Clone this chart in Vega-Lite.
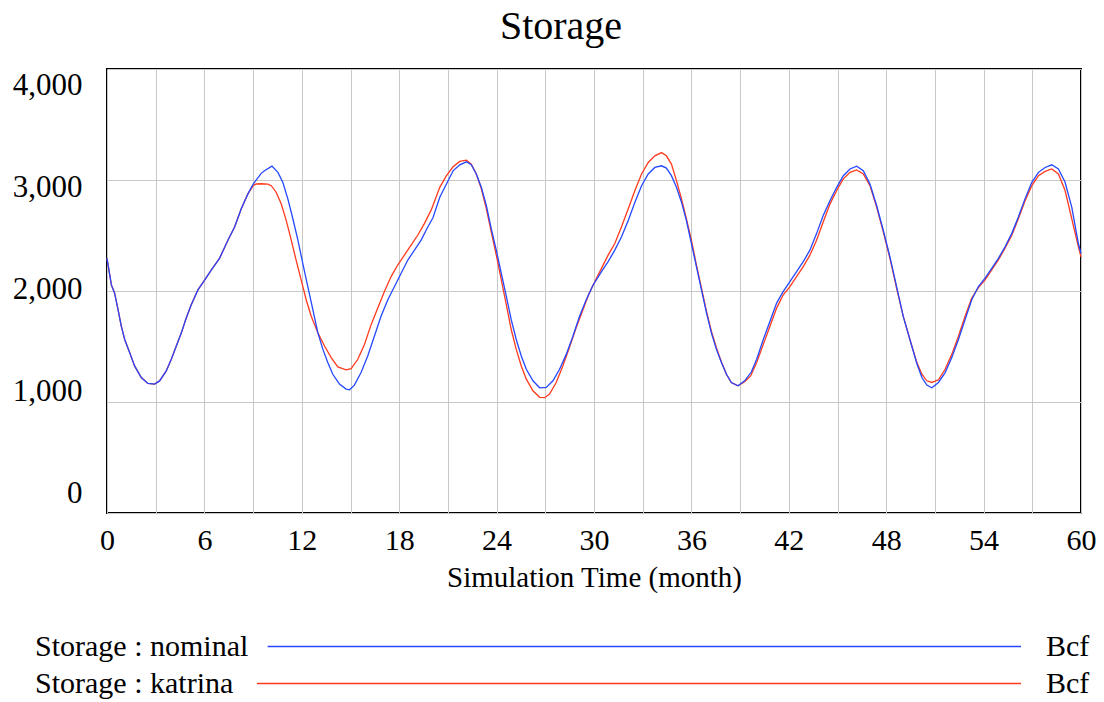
{
"$schema": "https://vega.github.io/schema/vega-lite/v6.json",
"background": "white",
"padding": {"left": 11, "top": 6, "right": 10, "bottom": 0},
"config": {"font": "Times New Roman, Liberation Serif, serif", "view": {"stroke": "black", "strokeWidth": 2}},
"spacing": 35,
"datasets": {
"storage": [
{"run":"nominal","month":0,"value":2294},{"run":"nominal","month":0.27,"value":2055},{"run":"nominal","month":0.47,"value":1980},{"run":"nominal","month":0.68,"value":1832},{"run":"nominal","month":0.88,"value":1683},{"run":"nominal","month":1.09,"value":1563},{"run":"nominal","month":1.4,"value":1444},{"run":"nominal","month":1.7,"value":1325},{"run":"nominal","month":2.11,"value":1220},{"run":"nominal","month":2.52,"value":1167},{"run":"nominal","month":2.93,"value":1161},{"run":"nominal","month":3.24,"value":1190},{"run":"nominal","month":3.65,"value":1280},{"run":"nominal","month":3.96,"value":1385},{"run":"nominal","month":4.27,"value":1504},{"run":"nominal","month":4.58,"value":1623},{"run":"nominal","month":4.88,"value":1757},{"run":"nominal","month":5.19,"value":1876},{"run":"nominal","month":5.6,"value":2010},{"run":"nominal","month":5.95,"value":2085},{"run":"nominal","month":6.42,"value":2189},{"run":"nominal","month":6.93,"value":2294},{"run":"nominal","month":7.45,"value":2458},{"run":"nominal","month":7.86,"value":2577},{"run":"nominal","month":8.27,"value":2741},{"run":"nominal","month":8.68,"value":2875},{"run":"nominal","month":9.01,"value":2964},{"run":"nominal","month":9.5,"value":3060},{"run":"nominal","month":9.7,"value":3083},{"run":"nominal","month":10.16,"value":3125},{"run":"nominal","month":10.53,"value":3069},{"run":"nominal","month":10.83,"value":2979},{"run":"nominal","month":11.14,"value":2830},{"run":"nominal","month":11.45,"value":2651},{"run":"nominal","month":11.76,"value":2458},{"run":"nominal","month":12.06,"value":2249},{"run":"nominal","month":12.37,"value":2039},{"run":"nominal","month":12.68,"value":1832},{"run":"nominal","month":12.99,"value":1623},{"run":"nominal","month":13.3,"value":1474},{"run":"nominal","month":13.6,"value":1355},{"run":"nominal","month":13.91,"value":1250},{"run":"nominal","month":14.32,"value":1161},{"run":"nominal","month":14.73,"value":1116},{"run":"nominal","month":14.94,"value":1110},{"run":"nominal","month":15.24,"value":1152},{"run":"nominal","month":15.65,"value":1265},{"run":"nominal","month":16.06,"value":1414},{"run":"nominal","month":16.47,"value":1593},{"run":"nominal","month":16.88,"value":1772},{"run":"nominal","month":17.3,"value":1921},{"run":"nominal","month":17.71,"value":2040},{"run":"nominal","month":18.12,"value":2160},{"run":"nominal","month":18.53,"value":2279},{"run":"nominal","month":18.94,"value":2368},{"run":"nominal","month":19.35,"value":2458},{"run":"nominal","month":19.76,"value":2577},{"run":"nominal","month":20.08,"value":2660},{"run":"nominal","month":20.5,"value":2845},{"run":"nominal","month":20.91,"value":2964},{"run":"nominal","month":21.32,"value":3083},{"run":"nominal","month":21.73,"value":3137},{"run":"nominal","month":22.14,"value":3164},{"run":"nominal","month":22.44,"value":3137},{"run":"nominal","month":22.75,"value":3054},{"run":"nominal","month":23.06,"value":2934},{"run":"nominal","month":23.37,"value":2770},{"run":"nominal","month":23.67,"value":2562},{"run":"nominal","month":23.98,"value":2368},{"run":"nominal","month":24.29,"value":2159},{"run":"nominal","month":24.6,"value":1951},{"run":"nominal","month":24.9,"value":1742},{"run":"nominal","month":25.21,"value":1563},{"run":"nominal","month":25.52,"value":1414},{"run":"nominal","month":25.83,"value":1295},{"run":"nominal","month":26.24,"value":1191},{"run":"nominal","month":26.65,"value":1128},{"run":"nominal","month":27.06,"value":1131},{"run":"nominal","month":27.47,"value":1191},{"run":"nominal","month":27.88,"value":1295},{"run":"nominal","month":28.29,"value":1429},{"run":"nominal","month":28.7,"value":1593},{"run":"nominal","month":29.11,"value":1772},{"run":"nominal","month":29.52,"value":1921},{"run":"nominal","month":29.93,"value":2050},{"run":"nominal","month":30.46,"value":2174},{"run":"nominal","month":30.87,"value":2264},{"run":"nominal","month":31.28,"value":2368},{"run":"nominal","month":31.69,"value":2487},{"run":"nominal","month":32.11,"value":2636},{"run":"nominal","month":32.52,"value":2800},{"run":"nominal","month":32.93,"value":2949},{"run":"nominal","month":33.34,"value":3054},{"run":"nominal","month":33.75,"value":3113},{"run":"nominal","month":34.16,"value":3128},{"run":"nominal","month":34.46,"value":3107},{"run":"nominal","month":34.77,"value":3039},{"run":"nominal","month":35.08,"value":2934},{"run":"nominal","month":35.39,"value":2800},{"run":"nominal","month":35.69,"value":2636},{"run":"nominal","month":36.0,"value":2428},{"run":"nominal","month":36.31,"value":2219},{"run":"nominal","month":36.62,"value":2010},{"run":"nominal","month":36.93,"value":1802},{"run":"nominal","month":37.23,"value":1623},{"run":"nominal","month":37.54,"value":1474},{"run":"nominal","month":37.85,"value":1355},{"run":"nominal","month":38.16,"value":1250},{"run":"nominal","month":38.46,"value":1176},{"run":"nominal","month":38.87,"value":1146},{"run":"nominal","month":39.28,"value":1191},{"run":"nominal","month":39.69,"value":1270},{"run":"nominal","month":40.02,"value":1385},{"run":"nominal","month":40.43,"value":1563},{"run":"nominal","month":40.84,"value":1727},{"run":"nominal","month":41.25,"value":1891},{"run":"nominal","month":41.66,"value":1996},{"run":"nominal","month":42.07,"value":2085},{"run":"nominal","month":42.48,"value":2174},{"run":"nominal","month":42.89,"value":2264},{"run":"nominal","month":43.3,"value":2368},{"run":"nominal","month":43.71,"value":2517},{"run":"nominal","month":44.12,"value":2681},{"run":"nominal","month":44.54,"value":2815},{"run":"nominal","month":44.95,"value":2934},{"run":"nominal","month":45.36,"value":3039},{"run":"nominal","month":45.77,"value":3099},{"run":"nominal","month":46.18,"value":3125},{"run":"nominal","month":46.59,"value":3083},{"run":"nominal","month":47.0,"value":2964},{"run":"nominal","month":47.41,"value":2770},{"run":"nominal","month":47.82,"value":2547},{"run":"nominal","month":48.23,"value":2308},{"run":"nominal","month":48.64,"value":2040},{"run":"nominal","month":49.05,"value":1772},{"run":"nominal","month":49.46,"value":1563},{"run":"nominal","month":49.89,"value":1345},{"run":"nominal","month":50.2,"value":1220},{"run":"nominal","month":50.5,"value":1152},{"run":"nominal","month":50.81,"value":1128},{"run":"nominal","month":51.22,"value":1176},{"run":"nominal","month":51.63,"value":1265},{"run":"nominal","month":52.04,"value":1400},{"run":"nominal","month":52.45,"value":1563},{"run":"nominal","month":52.86,"value":1742},{"run":"nominal","month":53.27,"value":1921},{"run":"nominal","month":53.68,"value":2040},{"run":"nominal","month":54.09,"value":2115},{"run":"nominal","month":54.5,"value":2204},{"run":"nominal","month":54.91,"value":2294},{"run":"nominal","month":55.32,"value":2398},{"run":"nominal","month":55.73,"value":2517},{"run":"nominal","month":56.14,"value":2666},{"run":"nominal","month":56.55,"value":2830},{"run":"nominal","month":56.97,"value":2979},{"run":"nominal","month":57.38,"value":3069},{"run":"nominal","month":57.79,"value":3113},{"run":"nominal","month":58.2,"value":3137},{"run":"nominal","month":58.61,"value":3099},{"run":"nominal","month":59.02,"value":2979},{"run":"nominal","month":59.43,"value":2756},{"run":"nominal","month":59.84,"value":2428},{"run":"nominal","month":60,"value":2338},
{"run":"katrina","month":0,"value":2294},{"run":"katrina","month":0.27,"value":2055},{"run":"katrina","month":0.47,"value":1980},{"run":"katrina","month":0.68,"value":1832},{"run":"katrina","month":0.88,"value":1683},{"run":"katrina","month":1.09,"value":1563},{"run":"katrina","month":1.4,"value":1444},{"run":"katrina","month":1.7,"value":1325},{"run":"katrina","month":2.11,"value":1220},{"run":"katrina","month":2.52,"value":1167},{"run":"katrina","month":2.93,"value":1161},{"run":"katrina","month":3.24,"value":1190},{"run":"katrina","month":3.65,"value":1280},{"run":"katrina","month":3.96,"value":1385},{"run":"katrina","month":4.27,"value":1504},{"run":"katrina","month":4.58,"value":1623},{"run":"katrina","month":4.88,"value":1757},{"run":"katrina","month":5.19,"value":1876},{"run":"katrina","month":5.6,"value":2010},{"run":"katrina","month":5.95,"value":2085},{"run":"katrina","month":6.42,"value":2189},{"run":"katrina","month":6.93,"value":2294},{"run":"katrina","month":7.45,"value":2458},{"run":"katrina","month":7.86,"value":2577},{"run":"katrina","month":8.27,"value":2741},{"run":"katrina","month":8.68,"value":2875},{"run":"katrina","month":9.01,"value":2950},{"run":"katrina","month":9.19,"value":2964},{"run":"katrina","month":9.5,"value":2966},{"run":"katrina","month":9.91,"value":2962},{"run":"katrina","month":10.12,"value":2949},{"run":"katrina","month":10.42,"value":2890},{"run":"katrina","month":10.73,"value":2786},{"run":"katrina","month":11.04,"value":2636},{"run":"katrina","month":11.35,"value":2458},{"run":"katrina","month":11.65,"value":2279},{"run":"katrina","month":11.96,"value":2100},{"run":"katrina","month":12.27,"value":1921},{"run":"katrina","month":12.58,"value":1772},{"run":"katrina","month":12.99,"value":1623},{"run":"katrina","month":13.4,"value":1504},{"run":"katrina","month":13.81,"value":1400},{"run":"katrina","month":14.22,"value":1316},{"run":"katrina","month":14.73,"value":1289},{"run":"katrina","month":15.04,"value":1301},{"run":"katrina","month":15.45,"value":1385},{"run":"katrina","month":15.86,"value":1519},{"run":"katrina","month":16.27,"value":1697},{"run":"katrina","month":16.68,"value":1846},{"run":"katrina","month":17.09,"value":1996},{"run":"katrina","month":17.5,"value":2130},{"run":"katrina","month":17.91,"value":2234},{"run":"katrina","month":18.32,"value":2323},{"run":"katrina","month":18.73,"value":2413},{"run":"katrina","month":19.14,"value":2502},{"run":"katrina","month":19.55,"value":2607},{"run":"katrina","month":19.96,"value":2726},{"run":"katrina","month":20.08,"value":2770},{"run":"katrina","month":20.5,"value":2934},{"run":"katrina","month":20.91,"value":3039},{"run":"katrina","month":21.32,"value":3119},{"run":"katrina","month":21.73,"value":3167},{"run":"katrina","month":22.14,"value":3179},{"run":"katrina","month":22.44,"value":3143},{"run":"katrina","month":22.75,"value":3054},{"run":"katrina","month":23.06,"value":2920},{"run":"katrina","month":23.37,"value":2741},{"run":"katrina","month":23.67,"value":2532},{"run":"katrina","month":23.98,"value":2323},{"run":"katrina","month":24.29,"value":2100},{"run":"katrina","month":24.6,"value":1876},{"run":"katrina","month":24.9,"value":1653},{"run":"katrina","month":25.21,"value":1474},{"run":"katrina","month":25.52,"value":1325},{"run":"katrina","month":25.83,"value":1206},{"run":"katrina","month":26.24,"value":1101},{"run":"katrina","month":26.65,"value":1042},{"run":"katrina","month":26.96,"value":1039},{"run":"katrina","month":27.26,"value":1072},{"run":"katrina","month":27.67,"value":1176},{"run":"katrina","month":28.08,"value":1325},{"run":"katrina","month":28.48,"value":1489},{"run":"katrina","month":28.9,"value":1668},{"run":"katrina","month":29.32,"value":1832},{"run":"katrina","month":29.68,"value":1970},{"run":"katrina","month":30.05,"value":2085},{"run":"katrina","month":30.46,"value":2204},{"run":"katrina","month":30.87,"value":2323},{"run":"katrina","month":31.28,"value":2428},{"run":"katrina","month":31.69,"value":2577},{"run":"katrina","month":32.11,"value":2741},{"run":"katrina","month":32.52,"value":2905},{"run":"katrina","month":32.93,"value":3054},{"run":"katrina","month":33.34,"value":3158},{"run":"katrina","month":33.75,"value":3218},{"run":"katrina","month":34.16,"value":3247},{"run":"katrina","month":34.46,"value":3218},{"run":"katrina","month":34.77,"value":3143},{"run":"katrina","month":35.08,"value":2994},{"run":"katrina","month":35.39,"value":2830},{"run":"katrina","month":35.69,"value":2651},{"run":"katrina","month":36.0,"value":2458},{"run":"katrina","month":36.31,"value":2234},{"run":"katrina","month":36.62,"value":2025},{"run":"katrina","month":36.93,"value":1817},{"run":"katrina","month":37.23,"value":1638},{"run":"katrina","month":37.54,"value":1489},{"run":"katrina","month":37.85,"value":1360},{"run":"katrina","month":38.16,"value":1250},{"run":"katrina","month":38.46,"value":1176},{"run":"katrina","month":38.87,"value":1146},{"run":"katrina","month":39.28,"value":1182},{"run":"katrina","month":39.65,"value":1235},{"run":"katrina","month":40.02,"value":1355},{"run":"katrina","month":40.43,"value":1519},{"run":"katrina","month":40.84,"value":1683},{"run":"katrina","month":41.25,"value":1846},{"run":"katrina","month":41.66,"value":1966},{"run":"katrina","month":42.07,"value":2040},{"run":"katrina","month":42.48,"value":2130},{"run":"katrina","month":42.89,"value":2219},{"run":"katrina","month":43.3,"value":2323},{"run":"katrina","month":43.71,"value":2458},{"run":"katrina","month":44.12,"value":2621},{"run":"katrina","month":44.54,"value":2785},{"run":"katrina","month":44.95,"value":2905},{"run":"katrina","month":45.36,"value":3010},{"run":"katrina","month":45.77,"value":3069},{"run":"katrina","month":46.18,"value":3090},{"run":"katrina","month":46.59,"value":3054},{"run":"katrina","month":47.0,"value":2949},{"run":"katrina","month":47.41,"value":2756},{"run":"katrina","month":47.82,"value":2532},{"run":"katrina","month":48.23,"value":2294},{"run":"katrina","month":48.64,"value":2025},{"run":"katrina","month":49.05,"value":1772},{"run":"katrina","month":49.46,"value":1563},{"run":"katrina","month":49.89,"value":1355},{"run":"katrina","month":50.2,"value":1250},{"run":"katrina","month":50.5,"value":1191},{"run":"katrina","month":50.81,"value":1176},{"run":"katrina","month":51.22,"value":1200},{"run":"katrina","month":51.63,"value":1295},{"run":"katrina","month":52.04,"value":1429},{"run":"katrina","month":52.45,"value":1593},{"run":"katrina","month":52.86,"value":1772},{"run":"katrina","month":53.27,"value":1936},{"run":"katrina","month":53.68,"value":2030},{"run":"katrina","month":54.09,"value":2100},{"run":"katrina","month":54.5,"value":2190},{"run":"katrina","month":54.91,"value":2280},{"run":"katrina","month":55.32,"value":2385},{"run":"katrina","month":55.73,"value":2500},{"run":"katrina","month":56.14,"value":2650},{"run":"katrina","month":56.55,"value":2810},{"run":"katrina","month":56.97,"value":2949},{"run":"katrina","month":57.38,"value":3039},{"run":"katrina","month":57.79,"value":3078},{"run":"katrina","month":58.2,"value":3099},{"run":"katrina","month":58.61,"value":3054},{"run":"katrina","month":59.02,"value":2905},{"run":"katrina","month":59.43,"value":2651},{"run":"katrina","month":59.84,"value":2398},{"run":"katrina","month":60,"value":2308}
],
"legendRows": [
{"run":"nominal","label":"Storage : nominal","unit":"Bcf"},
{"run":"katrina","label":"Storage : katrina","unit":"Bcf"}
]
},
"vconcat": [
{
"width": 974,
"height": 444,
"title": {"text": "Storage", "font": "Times New Roman, Liberation Serif, serif", "fontSize": 40, "fontWeight": "normal", "color": "black", "anchor": "middle", "frame": "group", "dx": -33, "offset": 22},
"data": {"name": "storage"},
"encoding": {
"x": {"field": "month", "type": "quantitative",
"scale": {"domain": [0, 60], "nice": false, "zero": false},
"axis": {"values": [0,3,6,9,12,15,18,21,24,27,30,33,36,39,42,45,48,51,54,57,60],
"labelExpr": "datum.value % 6 === 0 ? datum.label : ''",
"grid": true, "gridColor": "#c8c8c8", "gridWidth": 1, "domain": false, "ticks": false, "tickSize": 0,
"labelPadding": 12, "labelFont": "Times New Roman, Liberation Serif, serif", "labelFontSize": 30, "labelColor": "black",
"labelFlush": false, "labelOverlap": false,
"title": "Simulation Time (month)", "titleFont": "Times New Roman, Liberation Serif, serif", "titleFontSize": 29, "titleFontWeight": "normal", "titleColor": "black", "titlePadding": 8}}
},
"layer": [
{
"encoding": {"y": {"field": "value", "type": "quantitative",
"scale": {"domain": [0, 4000], "nice": false, "zero": false},
"axis": {"orient": "left", "values": [0,1000,2000,3000,4000], "grid": true, "gridColor": "#c8c8c8", "gridWidth": 1, "labels": false, "ticks": false, "tickSize": 0, "domain": false, "title": null}}},
"layer": [
{"transform": [{"filter": "datum.run === 'katrina'"}], "mark": {"type": "line", "stroke": "#ff3a1e", "strokeWidth": 1.3}},
{"transform": [{"filter": "datum.run === 'nominal'"}], "mark": {"type": "line", "stroke": "#2448ff", "strokeWidth": 1.3}}
]
},
{
"transform": [{"filter": "datum.run === 'nominal'"}],
"mark": {"type": "line", "opacity": 0, "strokeOpacity": 0},
"encoding": {"y": {"field": "value", "type": "quantitative",
"scale": {"domain": [-196, 4157], "nice": false, "zero": false},
"axis": {"orient": "left", "values": [0,1000,2000,3000,4000], "format": ",.0f", "grid": false, "domain": false, "ticks": false, "tickSize": 0,
"labelPadding": 25, "labelFont": "Times New Roman, Liberation Serif, serif", "labelFontSize": 31, "labelColor": "black", "labelBaseline": "middle",
"labelFlush": false, "labelOverlap": false, "title": null}}}
}
],
"resolve": {"scale": {"y": "independent"}, "axis": {"y": "independent"}}
},
{
"width": 974,
"height": 74,
"view": {"stroke": null},
"data": {"name": "legendRows"},
"encoding": {"y": {"field": "run", "type": "nominal", "scale": {"type": "point", "domain": ["nominal", "katrina"], "padding": 0.5}, "axis": null}},
"layer": [
{"mark": {"type": "text", "align": "left", "baseline": "middle", "font": "Times New Roman, Liberation Serif, serif", "fontSize": 30, "color": "black"},
"encoding": {"x": {"datum": -0.0739, "type": "quantitative", "scale": {"domain": [0, 1], "nice": false, "zero": false}, "axis": null}, "text": {"field": "label"}}},
{"transform": [{"filter": "datum.run === 'nominal'"}], "mark": {"type": "rule", "stroke": "#2448ff", "strokeWidth": 1.3},
"encoding": {"x": {"datum": 0.1649, "type": "quantitative", "scale": {"domain": [0, 1], "nice": false, "zero": false}, "axis": null}, "x2": {"datum": 0.9384}}},
{"transform": [{"filter": "datum.run === 'katrina'"}], "mark": {"type": "rule", "stroke": "#ff3a1e", "strokeWidth": 1.3},
"encoding": {"x": {"datum": 0.154, "type": "quantitative", "scale": {"domain": [0, 1], "nice": false, "zero": false}, "axis": null}, "x2": {"datum": 0.9384}}},
{"mark": {"type": "text", "align": "left", "baseline": "middle", "font": "Times New Roman, Liberation Serif, serif", "fontSize": 30, "color": "black"},
"encoding": {"x": {"datum": 0.964, "type": "quantitative", "scale": {"domain": [0, 1], "nice": false, "zero": false}, "axis": null}, "text": {"field": "unit"}}}
]
}
]
}
